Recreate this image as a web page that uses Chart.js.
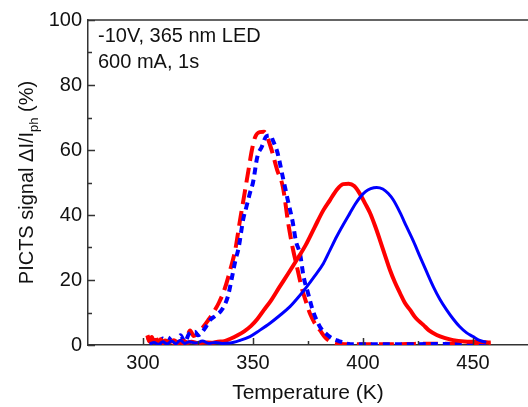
<!DOCTYPE html>
<html>
<head>
<meta charset="utf-8">
<script src="https://cdn.jsdelivr.net/npm/chart.js@4"></script>
<style>
  html, body { margin: 0; padding: 0; background: #fff; }
  #wrap { width: 528px; height: 407px; }
</style>
</head>
<body>
<div id="wrap"><canvas id="c" width="528" height="407"></canvas></div>
<script>
// values: temperature (K) and PICTS signal (%)
var redSolidT = [302, 303, 304, 305, 306, 307, 308, 309, 310, 312, 314, 316, 318, 320, 322, 325, 328, 331, 334, 337, 340, 343, 346, 349, 352, 355, 358, 362, 366, 370, 374, 378, 382, 385, 388, 391, 393.5, 396, 398.6, 401, 403.2, 405.5, 407.7, 410, 412.3, 414.5, 416.8, 419, 421.4, 424, 427.4, 430, 433.5, 437, 441, 446, 451.7, 458];
var redSolidV = [2.8, 1.0, 2.2, 0.8, 1.6, 0.5, 1.8, 0.6, 1.4, 0.8, 1.5, 0.6, 1.2, 0.7, 1.0, 0.6, 0.8, 0.7, 1.0, 1.2, 2.0, 3.0, 4.2, 5.8, 8.0, 10.8, 13.5, 17.8, 22, 26.3, 30.8, 36.2, 41.5, 44.6, 47.7, 49.5, 49.6, 48.9, 46.5, 43.5, 40.6, 36.6, 32.3, 27.6, 23, 19.3, 16, 13, 10.8, 8.3, 6.2, 4.5, 3.1, 2.2, 1.5, 1.1, 1.0, 0.8];

var blueSolidT = [303, 305, 307, 309, 311, 313, 315, 317, 319, 321, 324, 327, 330, 333, 336, 339.5, 344, 348.6, 353, 357.7, 362, 366.8, 370.5, 374.4, 378, 382, 385, 388, 391, 394, 396.5, 398.6, 401, 403.5, 406.2, 409, 411.5, 413.8, 416.8, 419.8, 423, 425.9, 429, 432, 435, 438, 441, 444, 447, 450, 453, 456];
var blueSolidV = [0.3, 0.8, 0.2, 1.0, 0.3, 1.2, 0.4, 1.5, 0.5, 1.0, 0.6, 1.2, 0.5, 0.8, 0.5, 0.6, 1.4, 2.6, 4.5, 6.7, 9.0, 11.8, 14.6, 17.9, 21.2, 25.1, 29.2, 33.3, 37.0, 40.5, 43.4, 45.4, 47.1, 48.1, 48.5, 48.0, 46.6, 44.6, 40.8, 36.4, 31.8, 27.2, 22.4, 17.9, 14.0, 10.8, 8.0, 5.6, 3.8, 2.6, 1.4, 0.8];

var redDashT = [302, 303, 304, 305, 306, 307, 308, 310, 312, 314, 316, 318, 320, 321.4, 323, 325, 327, 329.5, 332, 334.5, 337, 340, 342, 344, 346, 348, 349.5, 351, 353, 355, 358, 361, 363.6, 366, 368, 370, 372, 374, 376, 378, 380.5, 383, 386, 390, 395, 400, 410, 420, 430, 440, 450, 458];
var redDashV = [3.0, 1.2, 2.5, 0.8, 2.0, 0.6, 1.5, 0.8, 1.2, 0.5, 1.0, 0.6, 2.5, 4.5, 2.8, 3.5, 5.2, 7.5, 10, 13, 17, 24, 29.5, 38, 46, 54, 60, 64, 65.5, 65.6, 61, 53.8, 48.6, 37.5, 30, 24, 18, 13.5, 9.5, 6.8, 4.5, 2.2, 0.8, 0.3, 0.2, 0.2, 0.2, 0.3, 0.4, 0.4, 0.5, 0.5];

var blueDashT = [303, 305, 307, 309, 311, 313, 315, 317, 319, 321, 323.6, 325, 328, 330.5, 333, 336, 338.6, 340.5, 342, 343.5, 345.5, 347, 348.7, 350, 352, 354, 356, 358, 359, 361, 363.6, 366, 368, 369.5, 371.4, 373, 375, 377, 379, 381, 384, 386, 389, 392, 396, 400, 410, 420, 430, 440, 450, 458];
var blueDashV = [0.5, 1.5, 0.3, 2.0, 0.8, 2.5, 0.6, 3.0, 1.0, 3.5, 4.1, 3.0, 5, 7.7, 9.0, 11, 15, 21, 26, 30, 38.5, 42.5, 47, 50, 58, 61, 64.2, 64.5, 63, 59.5, 51.5, 44, 38, 32, 28, 21, 16, 11, 7.5, 5, 3, 2, 1.2, 0.5, 0.2, 0.2, 0.2, 0.2, 0.3, 0.3, 0.4, 0.5];

var xTicks = [300, 350, 400, 450];
var xMinor = [325, 375, 425];
var yTicks = [0, 20, 40, 60, 80, 100];
var yMinor = [10, 30, 50, 70, 90];
var noteLines = ["-10V, 365 nm LED", "600 mA, 1s"];

var FONT = "'Liberation Sans', Arial, sans-serif";
var AXIS = "#333";

function pts(t, v) {
  var out = [];
  for (var i = 0; i < t.length; i++) out.push({ x: t[i], y: v[i] });
  return out;
}

var framePlugin = {
  id: "frame",
  afterDraw: function (chart) {
    var ctx = chart.ctx, a = chart.chartArea;
    var xs = chart.scales.x, ys = chart.scales.y;
    var i, p;
    ctx.save();
    ctx.strokeStyle = AXIS;
    ctx.lineWidth = 1.5;
    ctx.beginPath();
    ctx.moveTo(a.left, a.top);
    ctx.lineTo(a.right, a.top);
    // inward ticks
    for (i = 0; i < xTicks.length; i++) {
      p = Math.round(xs.getPixelForValue(xTicks[i])) + 0.5;
      ctx.moveTo(p, a.bottom); ctx.lineTo(p, a.bottom - 7);
    }
    for (i = 0; i < xMinor.length; i++) {
      p = Math.round(xs.getPixelForValue(xMinor[i])) + 0.5;
      ctx.moveTo(p, a.bottom); ctx.lineTo(p, a.bottom - 4);
    }
    for (i = 0; i < yTicks.length; i++) {
      p = Math.round(ys.getPixelForValue(yTicks[i])) + 0.5;
      ctx.moveTo(a.left, p); ctx.lineTo(a.left + 7, p);
    }
    for (i = 0; i < yMinor.length; i++) {
      p = Math.round(ys.getPixelForValue(yMinor[i])) + 0.5;
      ctx.moveTo(a.left, p); ctx.lineTo(a.left + 4, p);
    }
    ctx.stroke();

    // note in the upper-left corner
    ctx.fillStyle = "#111";
    ctx.font = "20px " + FONT;
    ctx.textAlign = "left";
    ctx.textBaseline = "alphabetic";
    for (i = 0; i < noteLines.length; i++) ctx.fillText(noteLines[i], 98, 42 + i * 26);

    // y title with subscript
    var main = "PICTS signal \u0394I/I", sub = "ph", tail = " (%)";
    ctx.font = "20px " + FONT;
    var w1 = ctx.measureText(main).width, w3 = ctx.measureText(tail).width;
    ctx.font = "13px " + FONT;
    var w2 = ctx.measureText(sub).width;
    var total = w1 + w2 + w3;
    ctx.translate(33, (a.top + a.bottom) / 2);
    ctx.rotate(-Math.PI / 2);
    var x0 = -total / 2;
    ctx.font = "20px " + FONT;
    ctx.fillText(main, x0, 0);
    ctx.font = "13px " + FONT;
    ctx.fillText(sub, x0 + w1, 5);
    ctx.font = "20px " + FONT;
    ctx.fillText(tail, x0 + w1 + w2, 0);
    ctx.restore();
  }
};

new Chart(document.getElementById("c"), {
  type: "line",
  data: {
    datasets: [
      { label: "blue solid", data: pts(blueSolidT, blueSolidV), borderColor: "#0000ff", borderWidth: 3 },
      { label: "red solid", data: pts(redSolidT, redSolidV), borderColor: "#ff0000", borderWidth: 4 },
      { label: "blue dashed", data: pts(blueDashT, blueDashV), borderColor: "#0000ff", borderWidth: 4, borderDash: [7, 5] },
      { label: "red dashed", data: pts(redDashT, redDashV), borderColor: "#ff0000", borderWidth: 4, borderDash: [15, 7] }
    ]
  },
  options: {
    responsive: false,
    animation: false,
    events: [],
    layout: { padding: { top: 20, right: 0, left: 0, bottom: 0 } },
    elements: {
      point: { radius: 0 },
      line: { tension: 0.3, cubicInterpolationMode: "monotone", fill: false, borderCapStyle: "butt" }
    },
    plugins: { legend: { display: false }, tooltip: { enabled: false } },
    scales: {
      x: {
        type: "linear",
        min: 275, max: 475,
        afterFit: function (s) { s.height = 62; },
        afterBuildTicks: function (s) { s.ticks = xTicks.map(function (v) { return { value: v }; }); },
        grid: { display: false, drawTicks: false },
        border: { display: true, color: AXIS, width: 1.5 },
        ticks: { color: "#111", font: { family: FONT, size: 20 }, padding: 6, maxRotation: 0 },
        title: { display: true, text: "Temperature (K)", color: "#111", font: { family: FONT, size: 21 }, padding: { top: 0, bottom: 1 } }
      },
      y: {
        min: 0, max: 100,
        afterFit: function (s) { s.width = 88; },
        afterBuildTicks: function (s) { s.ticks = yTicks.map(function (v) { return { value: v }; }); },
        grid: { display: false, drawTicks: false },
        border: { display: true, color: AXIS, width: 1.5 },
        ticks: { color: "#111", font: { family: FONT, size: 20 }, padding: 6 }
      }
    }
  },
  plugins: [framePlugin]
});
</script>
</body>
</html>
